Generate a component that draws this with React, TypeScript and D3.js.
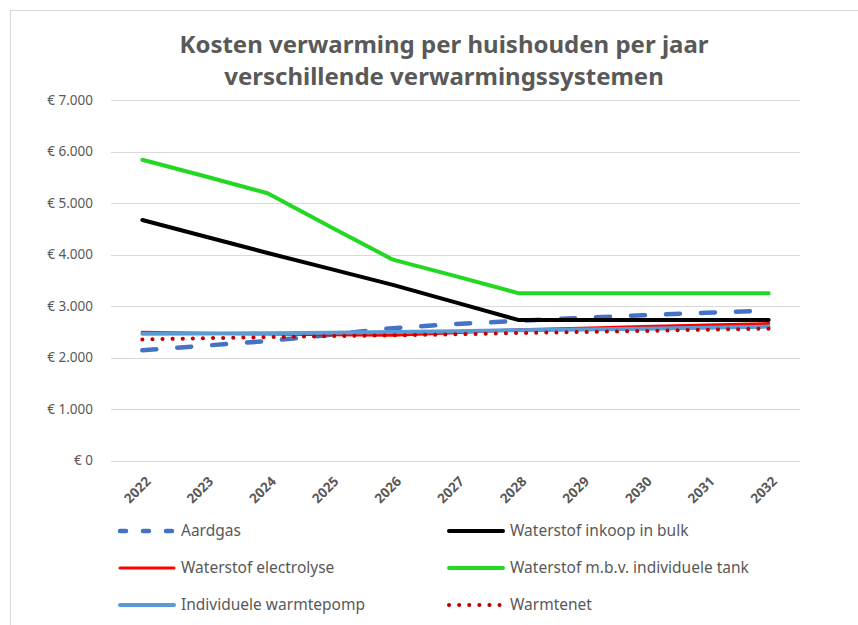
import React, { useRef, useEffect } from 'react';
import * as d3 from 'd3';

const years = ['2022', '2023', '2024', '2025', '2026', '2027', '2028', '2029', '2030', '2031', '2032'];

const aardgas = [2140, 2230, 2320, 2440, 2570, 2650, 2710, 2770, 2820, 2870, 2910];
const inkoopBulk = [4670, 4350, 4030, 3720, 3410, 3070, 2730, 2730, 2730, 2730, 2730];
const electrolyse = [2490, 2470, 2455, 2440, 2430, 2480, 2540, 2570, 2600, 2630, 2660];
const individueleTank = [5840, 5520, 5190, 4540, 3900, 3580, 3250, 3250, 3250, 3250, 3250];
const warmtepomp = [2460, 2465, 2470, 2480, 2495, 2510, 2530, 2545, 2560, 2580, 2600];
const warmtenet = [2350, 2375, 2395, 2415, 2430, 2450, 2475, 2495, 2515, 2540, 2560];

const yTicks = [0, 1000, 2000, 3000, 4000, 5000, 6000, 7000];

const titleLines = ['Kosten verwarming per huishouden per jaar', 'verschillende verwarmingssystemen'];

interface Series {
  name: string;
  values: number[];
  color: string;
  width: number;
  dash?: string;
  legendDash?: string;
}

const series: Series[] = [
  { name: 'Aardgas', values: aardgas, color: '#4472c4', width: 4.5, dash: '14,21', legendDash: '6,17' },
  { name: 'Waterstof inkoop in bulk', values: inkoopBulk, color: '#000000', width: 4 },
  { name: 'Waterstof electrolyse', values: electrolyse, color: '#ff0000', width: 3 },
  { name: 'Waterstof m.b.v. individuele tank', values: individueleTank, color: '#22d822', width: 4 },
  { name: 'Individuele warmtepomp', values: warmtepomp, color: '#5b9bd5', width: 4 },
  { name: 'Warmtenet', values: warmtenet, color: '#c00000', width: 4, dash: '0.1,10', legendDash: '0.1,10' },
];

const W = 858;
const H = 625;
const FONT = "'Noto Sans', 'Open Sans', sans-serif";
const GRAY = '#595959';

const App: React.FC = () => {
  const svgRef = useRef<SVGSVGElement>(null);

  useEffect(() => {
    if (!svgRef.current) return;
    const svg = d3.select(svgRef.current);
    svg.selectAll('*').remove();

    const plot = { left: 111, right: 800, top: 100, bottom: 460.5 };

    const x = d3.scaleBand()
      .domain(years)
      .range([plot.left, plot.right]);
    const xc = (d: string) => (x(d) || 0) + x.bandwidth() / 2;

    const y = d3.scaleLinear()
      .domain([0, 7000])
      .range([plot.bottom, plot.top]);

    // chart border
    svg.append('rect')
      .attr('x', 10.5)
      .attr('y', 10.5)
      .attr('width', W + 20)
      .attr('height', H + 20)
      .attr('fill', 'white')
      .attr('stroke', '#d9d9d9');

    // title
    titleLines.forEach((t, i) => {
      svg.append('text')
        .attr('x', 444)
        .attr('y', 53 + i * 32)
        .attr('text-anchor', 'middle')
        .style('font-family', FONT)
        .style('font-size', '24px')
        .style('font-weight', 'bold')
        .style('fill', GRAY)
        .text(t);
    });

    // gridlines
    svg.append('g')
      .selectAll('line')
      .data(yTicks)
      .enter()
      .append('line')
      .attr('x1', plot.left)
      .attr('x2', plot.right)
      .attr('y1', d => Math.round(y(d)) + 0.5)
      .attr('y2', d => Math.round(y(d)) + 0.5)
      .attr('stroke', '#d9d9d9')
      .attr('stroke-width', 1);

    // y labels
    svg.append('g')
      .selectAll('text')
      .data(yTicks)
      .enter()
      .append('text')
      .attr('x', 93)
      .attr('y', d => y(d))
      .attr('dy', '0.35em')
      .attr('text-anchor', 'end')
      .style('font-family', FONT)
      .style('font-size', '13.5px')
      .style('fill', GRAY)
      .text(d => '€ ' + d3.format(',')(d).replace(/,/g, '.'));

    // x labels
    svg.append('g')
      .selectAll('text')
      .data(years)
      .enter()
      .append('text')
      .attr('transform', d => `translate(${xc(d) + 6}, 479) rotate(-45)`)
      .attr('text-anchor', 'end')
      .attr('dy', '0.35em')
      .style('font-family', FONT)
      .style('font-size', '13.5px')
      .style('font-weight', 'bold')
      .style('fill', GRAY)
      .text(d => d);

    // lines
    const line = d3.line<number>()
      .x((_, i) => xc(years[i]))
      .y(d => y(d));

    series.forEach(s => {
      svg.append('path')
        .datum(s.values)
        .attr('d', line)
        .attr('fill', 'none')
        .attr('stroke', s.color)
        .attr('stroke-width', s.width)
        .attr('stroke-linecap', 'round')
        .attr('stroke-linejoin', 'round')
        .attr('stroke-dasharray', s.dash || null);
    });

    // legend
    const legend = svg.append('g');
    series.forEach((s, i) => {
      const col = i % 2;
      const row = Math.floor(i / 2);
      const lx = col === 0 ? 120 : 449;
      const ly = 531 + row * 37;
      const item = legend.append('g').attr('transform', `translate(${lx}, ${ly})`);
      item.append('line')
        .attr('x1', 0)
        .attr('x2', 54)
        .attr('stroke', s.color)
        .attr('stroke-width', s.width)
        .attr('stroke-linecap', 'round')
        .attr('stroke-dasharray', s.legendDash || null);
      item.append('text')
        .attr('x', 61)
        .attr('dy', '0.35em')
        .style('font-family', FONT)
        .style('font-size', '15.5px')
        .style('fill', GRAY)
        .text(s.name);
    });
  }, []);

  return (
    <svg
      ref={svgRef}
      width={W}
      height={H}
      style={{ position: 'absolute', left: 0, top: 0, display: 'block' }}
    />
  );
};

export default App;
